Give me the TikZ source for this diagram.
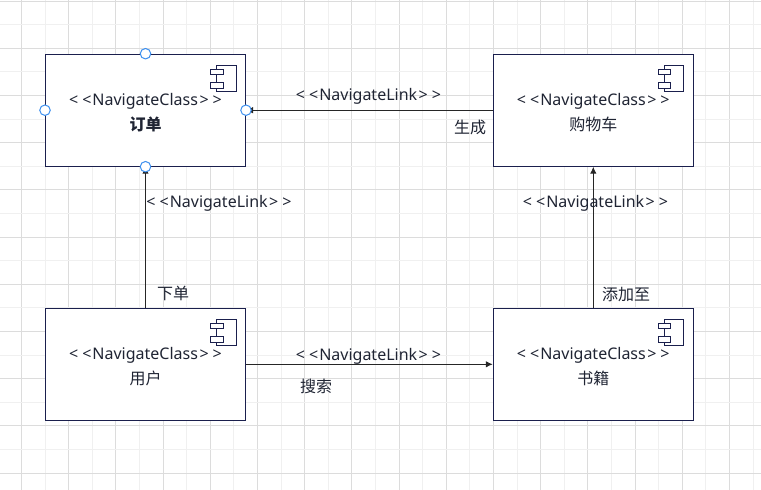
\documentclass[tikz,border=0pt]{standalone}
\usepackage{fontspec}
\setmainfont{Noto Sans}
\newfontfamily\cjk{Noto Sans CJK SC}
\usetikzlibrary{arrows.meta}
\definecolor{navy}{HTML}{1A1F4D}
\definecolor{ink}{HTML}{1F2433}
\definecolor{portblue}{HTML}{3C8FEF}
\definecolor{griddark}{HTML}{DCDCDC}
\definecolor{gridlight}{HTML}{F0F0F0}
\newcommand{\navclass}{\rule{0pt}{16.5pt}<\hspace{4pt}<\hspace{1pt}NavigateClass\hspace{1.5pt}>\hspace{4pt}>}
\newcommand{\navlink}{<\hspace{4pt}<\hspace{1pt}NavigateLink\hspace{1.5pt}>\hspace{4pt}>}
\tikzset{
  compbox/.style={draw=navy, fill=white, line width=1pt, minimum width=200pt, minimum height=112pt,
    inner sep=0pt, align=center, text=ink, font=\fontsize{16pt}{25pt}\selectfont},
  port/.style={circle, draw=portblue, fill=white, line width=1pt, minimum size=10.5pt, inner sep=0pt},
  linktext/.style={text=ink, inner sep=0pt, font=\fontsize{16pt}{18pt}\selectfont},
  roletext/.style={text=ink, inner sep=0pt, font=\fontsize{16pt}{18pt}\selectfont\cjk},
  navarrow/.style={draw=black!85, line width=1pt, -{Latex[length=7pt,width=6.5pt]}},
}
\begin{document}
\begin{tikzpicture}[x=1pt, y=-1pt]
\useasboundingbox (0,0) rectangle (761,490);
% grid
\foreach \k in {0,...,15} {
  \draw[gridlight, line width=1pt] (45.1+47.2*\k,0) -- (45.1+47.2*\k,490);
  \draw[griddark, line width=1pt] (21.5+47.2*\k,0) -- (21.5+47.2*\k,490);
}
\foreach \k in {0,...,10} {
  \draw[gridlight, line width=1pt] (0,24.6+47.2*\k) -- (761,24.6+47.2*\k);
  \draw[griddark, line width=1pt] (0,1+47.2*\k) -- (761,1+47.2*\k);
}

% classes
\node[compbox] (order) at (145.5,110.2) {\navclass\\{\cjk\bfseries 订单}};
\node[compbox] (cart) at (593.3,110.2) {\navclass\\{\cjk 购物车}};
\node[compbox] (user) at (145.5,364.3) {\navclass\\{\cjk 用户}};
\node[compbox] (book) at (593.3,364.3) {\navclass\\{\cjk 书籍}};

% component icons
\foreach \n in {order,cart,user,book} {
  \begin{scope}[shift={(\n.north east)}, draw=navy, line width=1pt]
    \draw[fill=white] (-29.3,12) rectangle (-10,37.4);
    \draw[fill=white] (-35.3,15.8) rectangle (-23,21);
    \draw[fill=white] (-35.3,29) rectangle (-23,34.4);
  \end{scope}
}

% links
\draw[navarrow] (cart.west) -- (order.east);
\draw[navarrow] (user.north) -- (order.south);
\draw[navarrow] (user.east) -- (book.west);
\draw[navarrow] (book.north) -- (cart.south);

% ports
\foreach \a in {north,south,east,west}
  \node[port] (order-\a) at (order.\a) {};

% labels
\node[linktext] (linkcart) at (368.5,96) {\navlink};
\node[linktext] (linkuser) at (219,203) {\navlink};
\node[linktext] (linkbook) at (595.5,203) {\navlink};
\node[linktext] (linksearch) at (368.5,356) {\navlink};
\node[roletext] (create) at (470,127) {生成};
\node[roletext] (place) at (173,293.5) {下单};
\node[roletext] (search) at (316,386.5) {搜索};
\node[roletext] (addto) at (626,294) {添加至};
\end{tikzpicture}
\end{document}
